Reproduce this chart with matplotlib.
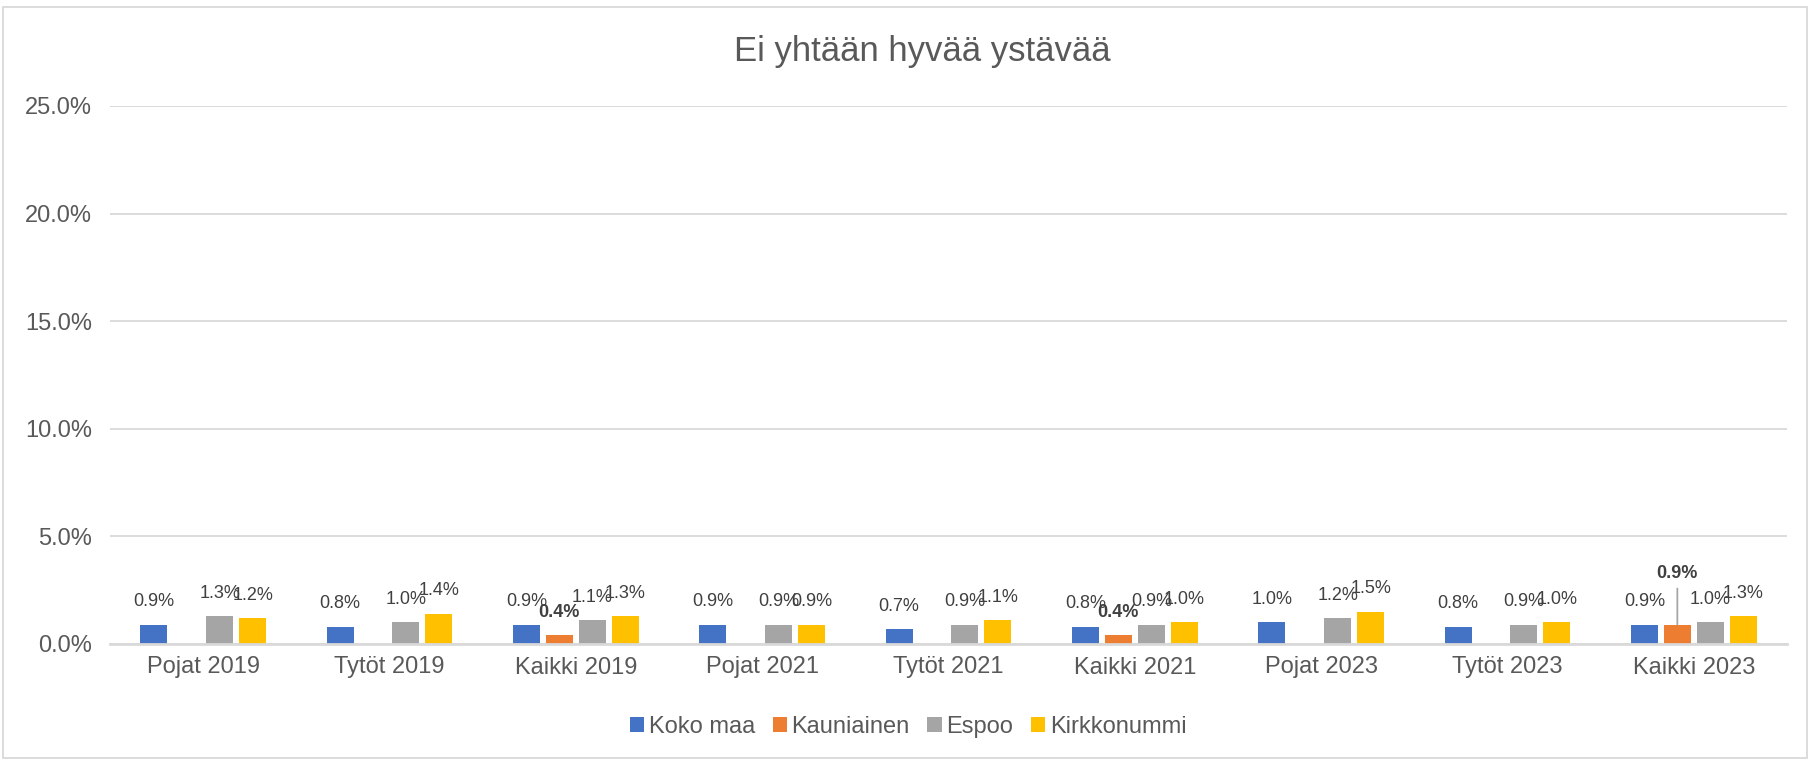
import matplotlib
matplotlib.use("Agg")
import matplotlib.pyplot as plt
from matplotlib.patches import Patch, Rectangle
import numpy as np

plt.rcParams['font.family'] = ['Liberation Sans', 'DejaVu Sans']

title = "Ei yhtään hyvää ystävää"
categories = ["Pojat 2019", "Tytöt 2019", "Kaikki 2019",
              "Pojat 2021", "Tytöt 2021", "Kaikki 2021",
              "Pojat 2023", "Tytöt 2023", "Kaikki 2023"]
series = ["Koko maa", "Kauniainen", "Espoo", "Kirkkonummi"]
koko_maa = [0.9, 0.8, 0.9, 0.9, 0.7, 0.8, 1.0, 0.8, 0.9]
kauniainen = [np.nan, np.nan, 0.4, np.nan, np.nan, 0.4, np.nan, np.nan, 0.9]
espoo = [1.3, 1.0, 1.1, 0.9, 0.9, 0.9, 1.2, 0.9, 1.0]
kirkkonummi = [1.2, 1.4, 1.3, 0.9, 1.1, 1.0, 1.5, 1.0, 1.3]
yticks = [0, 5, 10, 15, 20, 25]

colors = ["#4472C4", "#ED7D31", "#A5A5A5", "#FFC000"]
text_col = "#595959"
label_col = "#404040"

W, H = 1810, 761
fig = plt.figure(figsize=(W / 100, H / 100), dpi=100)
ax = fig.add_axes([110 / W, 1 - 644 / H, (1787 - 110) / W, (644 - 106) / H])

x = np.arange(len(categories))
step = 0.177
width = 0.145
all_vals = [koko_maa, kauniainen, espoo, kirkkonummi]

for i, (name, vals, c) in enumerate(zip(series, all_vals, colors)):
    pos = x + (i - 1.5) * step
    v = np.array(vals, dtype=float)
    ax.bar(pos, v, width=width, color=c, zorder=3, label=name)
    for px, val in zip(pos, v):
        if np.isnan(val):
            continue
        bold = (name == "Kauniainen")
        dy = 16.5
        if bold and val > 0.8:
            # this label sits higher, tied to its bar with a leader line
            dy = 37
            ax.annotate("", xy=(px, val), xytext=(0, 26), textcoords="offset points",
                        arrowprops=dict(arrowstyle="-", color="#A6A6A6", lw=1.3,
                                        shrinkA=0, shrinkB=0), zorder=4)
        ax.annotate(f"{val:.1f}%", xy=(px, val), xytext=(0, dy),
                    textcoords="offset points", ha="center", va="center",
                    fontsize=13, color=label_col,
                    fontweight="bold" if bold else "normal", zorder=5)

ax.set_xlim(-0.5, len(categories) - 0.5)
ax.set_ylim(0, 25)
ax.set_yticks(yticks)
ax.set_yticklabels([f"{t:.1f}%" for t in yticks])
ax.set_xticks(x)
ax.set_xticklabels(categories)
ax.tick_params(axis="y", length=0, pad=13, labelsize=17, labelcolor=text_col)
ax.tick_params(axis="x", length=0, pad=9, labelsize=17, labelcolor=text_col)
ax.grid(axis="y", color="#D9D9D9", lw=1.3, zorder=0)
for s in ["top", "right", "left"]:
    ax.spines[s].set_visible(False)
ax.spines["bottom"].set_color("#D9D9D9")
ax.spines["bottom"].set_linewidth(2)
ax.spines["bottom"].set_zorder(4)

fig.text(922 / W, 1 - 52 / H, title, ha="center", va="center",
         fontsize=25, color=text_col)

handles = [Patch(facecolor=c, edgecolor="none") for c in colors]
fig.legend(handles, series, loc="center", bbox_to_anchor=(908 / W, 34 / H),
           ncol=4, frameon=False, fontsize=17, labelcolor=text_col,
           handlelength=0.6, handleheight=0.6, handletextpad=0.2,
           columnspacing=0.75)

# outer chart border
fig.patches.append(Rectangle((3 / W, 3 / H), (W - 6) / W, (H - 10) / H,
                             transform=fig.transFigure, fill=False,
                             edgecolor="#D9D9D9", lw=1.3))

fig.savefig("out.png", dpi=100)
